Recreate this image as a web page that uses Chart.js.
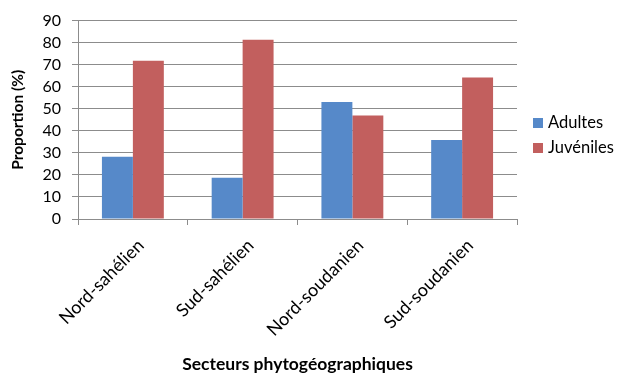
<!DOCTYPE html>
<html>
<head>
<meta charset="utf-8">
<script src="https://cdn.jsdelivr.net/npm/chart.js@4/dist/chart.umd.min.js"></script>
<style>
  html, body { margin: 0; padding: 0; background: #ffffff; }
  #wrap { width: 618px; height: 374px; position: relative; }
</style>
</head>
<body>
<div id="wrap"><canvas id="chart"></canvas></div>
<script>
// Sectors and proportions (%) of adults and juveniles
const categories = ['Nord-sahélien', 'Sud-sahélien', 'Nord-soudanien', 'Sud-soudanien'];
const adultes = [28.2, 18.7, 53.1, 35.8];
const juveniles = [71.8, 81.3, 46.9, 64.2];
const yTicks = [0, 10, 20, 30, 40, 50, 60, 70, 80, 90];

const FONT = 'Lato, "Open Sans", sans-serif';
const GRID = '#8c8c8c';
const TEXT = '#000000';

// Legend drawn at the right of the plot area
const sideLegend = {
  id: 'sideLegend',
  afterDraw(chart) {
    const ctx = chart.ctx;
    const area = chart.chartArea;
    ctx.save();
    ctx.font = '16.5px ' + FONT;
    ctx.textBaseline = 'middle';
    ctx.textAlign = 'left';
    chart.data.datasets.forEach((ds, i) => {
      const y = 123 + i * 25;
      const x = area.right + 16;
      ctx.fillStyle = ds.backgroundColor;
      ctx.fillRect(x, y - 5, 10, 10);
      ctx.fillStyle = TEXT;
      ctx.fillText(ds.label, x + 15, y);
    });
    ctx.restore();
  }
};

// Horizontal axis title under the rotated labels, centred on the plot area
const xTitle = {
  id: 'xTitle',
  afterDraw(chart) {
    const ctx = chart.ctx;
    const area = chart.chartArea;
    ctx.save();
    ctx.font = 'bold 17.5px ' + FONT;
    ctx.fillStyle = TEXT;
    ctx.textAlign = 'center';
    ctx.textBaseline = 'middle';
    ctx.fillText('Secteurs phytogéographiques', (area.left + area.right) / 2, 364);
    ctx.restore();
  }
};

new Chart(document.getElementById('chart'), {
  type: 'bar',
  data: {
    labels: categories,
    datasets: [
      { label: 'Adultes', data: adultes, backgroundColor: '#5689c9' },
      { label: 'Juvéniles', data: juveniles, backgroundColor: '#c25f5e' }
    ]
  },
  options: {
    responsive: true,
    maintainAspectRatio: false,
    animation: false,
    events: [],
    layout: { padding: { top: 18, right: 101, left: 0, bottom: 0 } },
    datasets: { bar: { categoryPercentage: 0.564, barPercentage: 1.0 } },
    plugins: { legend: { display: false }, tooltip: { enabled: false } },
    scales: {
      x: {
        afterFit(scale) { scale.height = 155; },
        grid: { drawOnChartArea: false, drawTicks: true, tickLength: 6, color: GRID, offset: true },
        border: { display: true, color: GRID },
        ticks: {
          minRotation: 45, maxRotation: 45, autoSkip: false,
          font: { family: FONT, size: 18 }, color: TEXT,
          padding: 10, labelOffset: 8
        }
      },
      y: {
        min: 0, max: 90,
        afterFit(scale) { scale.width = 78; },
        afterBuildTicks(scale) { scale.ticks = yTicks.map(v => ({ value: v })); },
        grid: { color: GRID, tickLength: 6, drawTicks: true },
        border: { display: true, color: GRID },
        ticks: { autoSkip: false, font: { family: FONT, size: 16 }, color: TEXT, padding: 11 },
        title: {
          display: true, text: 'Proportion (%)',
          font: { family: FONT, size: 15.5, weight: 'bold' }, color: TEXT,
          padding: { top: 9, bottom: 0 }
        }
      }
    }
  },
  plugins: [sideLegend, xTitle]
});
</script>
</body>
</html>
